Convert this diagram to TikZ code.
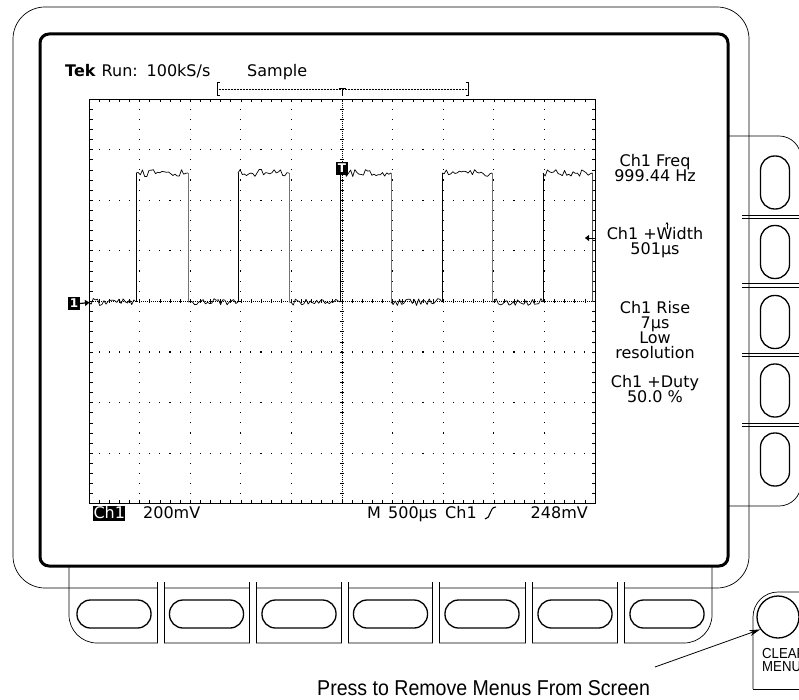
\documentclass[tikz,border=0pt]{standalone}
\usepackage{fontspec}
\setmainfont{DejaVu Sans}
\newfontfamily\narrowfont[FakeStretch=0.91]{Liberation Sans}
\usetikzlibrary{arrows.meta}
\newcommand\noisyseg[4]{%
  \pgfmathtruncatemacro\nn{(#2-#1)/2.2}%
  \draw[wave] (#1,#3) \foreach \k in {1,...,\nn} { -- ({#1+\k*(#2-#1)/(\nn+1)}, {#3+#4*rand}) } -- (#2,#3);%
}
\begin{document}
\begin{tikzpicture}[x=1pt,y=-1pt,
  bezel/.style={line width=0.7pt},
  screenframe/.style={line width=3pt, rounded corners=9pt},
  btn/.style={line width=1.3pt},
  scr/.style={inner sep=0pt, font=\fontsize{16}{16}\selectfont},
  wave/.style={line width=0.7pt, line join=round},
  lbl/.style={inner sep=0pt, font=\narrowfont\fontsize{21.5}{22}\selectfont},
  small/.style={inner sep=0pt, font=\narrowfont\fontsize{14.5}{14}\selectfont},
  marker/.style={fill=black, text=white, inner sep=0pt, font=\bfseries\fontsize{12}{12}\selectfont},
]
\useasboundingbox (0,0) rectangle (799,700);
\clip (0,0) rectangle (799,700);
\fill[white] (0,0) rectangle (799,700);

% bezel
\draw[bezel, rounded corners=32pt] (13,7) rectangle (749,588);

% right button panel
\draw[bezel, rounded corners=22pt] (728,136) -- (801,136) -- (801,506) -- (728,506);
\foreach \yy in {217,285.5,355,425} {
  \draw[bezel] (742,\yy-1.7) -- (801,\yy-1.7) (742,\yy+1.7) -- (801,\yy+1.7);
}
\foreach \yy in {182.5,252,322,390.5,459.5} {
  \draw[btn, rounded corners=14pt] (760.5,\yy-26.5) rectangle (789.5,\yy+26.5);
}

% bottom button panel
\draw[bezel, rounded corners=28pt] (69,566) -- (69,643) -- (712,643) -- (712,566);
\foreach \xx in {160.5,252.5,345,436,528.5,621} {
  \fill[white] (\xx-3,584) rectangle (\xx+3,646);
  \draw[bezel] (\xx-3.4,582) -- (\xx-3.4,643) (\xx+3.4,582) -- (\xx+3.4,643);
}
\foreach \xx in {114,206.5,299,390.5,482,575,667} {
  \draw[btn, rounded corners=13.5pt] (\xx-37,600) rectangle (\xx+37,628);
}

% clear menu button
\node[draw, circle, btn, minimum size=42pt, inner sep=0pt] (clr) at (778,617) {};
\draw[bezel] (753,689) -- (805,689);
\draw[bezel, rounded corners=25pt] (753,689) -- (753,592) -- (805,592);
\node[small, anchor=base west] (clear) at (762,658) {CLEAR};
\node[small, anchor=base west] (menu) at (762,671.5) {MENU};

% callout
\node[lbl, anchor=base west] (press) at (317,695) {Press to Remove Menus From Screen};
\coordinate (ps) at (655,667);
\draw[line width=0.8pt, -{Stealth[length=11pt,width=6pt]}] (ps) -- (clr.215);

% screen frame
\draw[screenframe] (40,34) rectangle (728,566);

% header
\node[scr, anchor=base west, font=\bfseries\fontsize{16}{16}\selectfont] (tek) at (65,77) {Tek};
\node[scr, anchor=base west] (run) at (101.5,77) {Run:};
\node[scr, anchor=base west] (rate) at (146.5,77) {100kS/s};
\node[scr, anchor=base west] (smp) at (247,77) {Sample};

% trigger position bar
\draw[line width=0.5pt, densely dotted] (217,89) -- (468,89);
\draw[line width=1pt] (219.5,83) -- (217,83) -- (217,95.5) -- (219.5,95.5);
\draw[line width=1pt] (465.5,83) -- (468,83) -- (468,95.5) -- (465.5,95.5);
\draw[line width=1pt] (338.5,89) -- (345.5,89) (342,89) -- (342,96.5);

% graticule
\draw[line width=0.8pt] (89,99) rectangle (595,503.8);
\foreach \i in {1,...,49} {
  \draw[line width=0.6pt] (89+\i*10.12,99) -- (89+\i*10.12,102.5)
                          (89+\i*10.12,503.8) -- (89+\i*10.12,500.3)
                          (89+\i*10.12,299.4) -- (89+\i*10.12,303.4);
}
\foreach \j in {1,...,39} {
  \draw[line width=0.6pt] (89,99+\j*10.12) -- (92.5,99+\j*10.12)
                          (595,99+\j*10.12) -- (591.5,99+\j*10.12)
                          (340,99+\j*10.12) -- (344,99+\j*10.12);
}
\foreach \i in {1,2,3,4,6,7,8,9} {
  \foreach \j in {1,...,39} {
    \fill (89+\i*50.6-0.55,99+\j*10.12-0.55) rectangle ++(1.1,1.1);
  }
}
\foreach \j in {1,2,3,5,6,7} {
  \foreach \i in {1,...,49} {
    \fill (89+\i*10.12-0.55,99+\j*50.6-0.55) rectangle ++(1.1,1.1);
  }
}
\draw[line width=0.6pt, dash pattern=on 0.8pt off 1.2pt] (342,99) -- (342,503.8);
\draw[line width=0.6pt, dash pattern=on 0.8pt off 1.2pt] (89,301.4) -- (595,301.4);

% waveform
\pgfmathsetseed{4217}
\noisyseg{89}{136}{302}{3.6}
\noisyseg{188}{238}{302}{3.6}
\noisyseg{289}{340}{302}{3.6}
\noisyseg{391}{442}{302}{3.6}
\noisyseg{492}{543}{302}{3.6}
\noisyseg{136}{188}{173}{3.6}
\noisyseg{238}{289}{173}{3.6}
\noisyseg{340}{391}{173}{3.6}
\noisyseg{442}{492}{173}{3.6}
\noisyseg{543}{592.5}{173}{3.6}
\foreach \xx in {136,238,340,442,543} { \draw[wave] (\xx,302) -- (\xx,173); }
\foreach \xx in {188,289,391,492} { \draw[wave, black!55] (\xx,173) -- (\xx,302); }
\draw[line width=1.2pt, black!70] (592.5,173) -- (592.5,302);

% markers
\node[marker, minimum width=12pt, minimum height=12.5pt] (m1) at (74,303.5) {1};
\draw[line width=1.2pt, -{Triangle[length=4.5pt,width=6pt]}] (m1.east) -- (89.5,302.5);
\node[marker, minimum width=12pt, minimum height=13pt] (tm) at (342,168.5) {T};
\draw[line width=0.8pt, -{Triangle[length=4pt,width=6pt]}] (595,238) -- (585,238);

% readouts
\node[scr, anchor=base] (f1) at (655,167) {Ch1 Freq};
\node[scr, anchor=base] (f2) at (655,182) {999.44 Hz};
\node[scr, anchor=base] (w1) at (655,239.5) {Ch1 +Width};
\node[scr, anchor=base] (w2) at (655,254.5) {501µs};
\draw[line width=0.5pt, -{Stealth[length=2.5pt,width=3pt]}] (667,229) -- (667,222);
\node[scr, anchor=base] (r1) at (655,313) {Ch1 Rise};
\node[scr, anchor=base] (r2) at (655,328) {7µs};
\node[scr, anchor=base] (r3) at (655,343) {Low};
\node[scr, anchor=base] (r4) at (655,358) {resolution};
\node[scr, anchor=base] (d1) at (655,387) {Ch1 +Duty};
\node[scr, anchor=base] (d2) at (655,402) {50.0 \%};

% status line
\node[scr, fill=black, text=white, anchor=base west, text height=10pt, text depth=0pt, inner ysep=2.5pt, inner xsep=0.3pt] (ch1box) at (93,518) {Ch1};
\node[scr, anchor=base west] (volts) at (143,518) {200mV};
\node[scr, anchor=base west] (mm) at (367,518) {M};
\node[scr, anchor=base west] (tb) at (388,518) {500µs};
\node[scr, anchor=base west] (tsrc) at (445,518) {Ch1};
\draw[line width=1.1pt] (485,519) .. controls (491,519) and (489,507) .. (496,507);
\node[scr, anchor=base east] (tlev) at (588,518) {248mV};
\end{tikzpicture}
\end{document}
